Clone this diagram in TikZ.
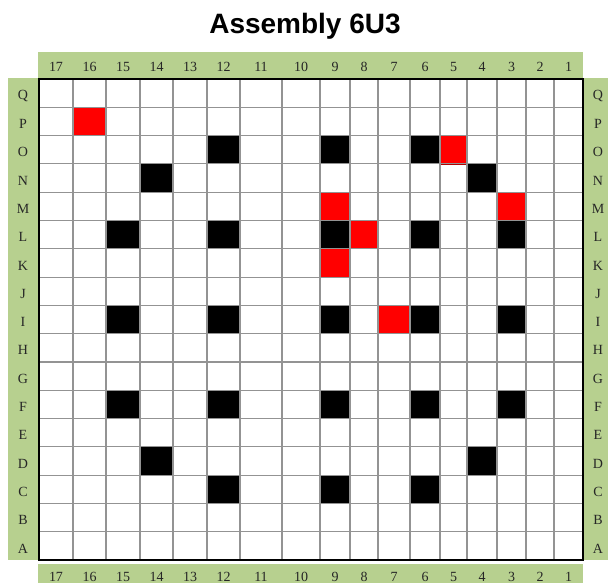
\documentclass[tikz,border=0pt]{standalone}
\usepackage{fontspec}
\setmainfont{Liberation Serif}
\newfontfamily\titlefont{Liberation Sans}
\definecolor{bandgreen}{RGB}{183,208,143}

\begin{document}
\begin{tikzpicture}[x=0.75pt,y=-0.75pt]
\tikzset{
  band/.style={fill=bandgreen},
  lbl/.style={font=\fontsize{10.5}{12}\selectfont,inner sep=0pt,text=black!85},
  gridline/.style={line width=0.8pt,draw=gray!85},
  rodcell/.style={fill=black},
  hotcell/.style={fill=red,draw=red!70!black,line width=0.5pt}
}
\useasboundingbox (0,0) rectangle (608,583);
% ---------- title ----------
\node[font=\titlefont\bfseries\fontsize{21}{25}\selectfont] (title) at (305,26) {Assembly 6U3};
% ---------- green label bands ----------
\fill[band] (38,52) rectangle (583,79);
\fill[band] (8,78) rectangle (39,560);
\fill[band] (583,78) rectangle (608,560);
\fill[band] (38,564) rectangle (583,583);
\fill[white] (39,79) rectangle (583,560);
% ---------- columns and rows ----------
\foreach \c/\xl/\xr in {17/39/73,16/73/106,15/106/140,14/140/173,13/173/207,12/207/240,11/240/282,10/282/320,9/320/350,8/350/378,7/378/410,6/410/440,5/440/467,4/467/497,3/497/526,2/526/554,1/554/583}{
  \coordinate (L\c) at (\xl,0);
  \coordinate (R\c) at (\xr,0);
  \node[lbl] (top\c) at ({(\xl+\xr)/2},67) {\c};
  \node[lbl] (bot\c) at ({(\xl+\xr)/2},577) {\c};
}
\foreach \r [count=\i from 0] in {Q,P,O,N,M,L,K,J,I,H,G,F,E,D,C,B,A}{
  \coordinate (T\r) at (0,{79+28.3*\i});
  \coordinate (B\r) at (0,{79+28.3*(\i+1)});
  \node[lbl] (left\r) at (23,{81.5+28.3*(\i+0.5)}) {\r};
  \node[lbl] (right\r) at (598,{81.5+28.3*(\i+0.5)}) {\r};
}
% ---------- filled cells ----------
\foreach \c/\r in {12/O,9/O,6/O,14/N,4/N,15/L,12/L,9/L,6/L,3/L,15/I,12/I,9/I,6/I,3/I,15/F,12/F,9/F,6/F,3/F,14/D,4/D,12/C,9/C,6/C}{
  \fill[rodcell] (L\c |- T\r) rectangle (R\c |- B\r);
}
\foreach \c/\r in {16/P,5/O,9/M,3/M,8/L,9/K,7/I}{
  \filldraw[hotcell] (L\c |- T\r) rectangle (R\c |- B\r);
}
% ---------- grid ----------
\foreach \c in {16,...,1}{ \draw[gridline] (L\c |- TQ) -- (L\c |- BA); }
\foreach \r in {P,O,N,M,L,K,J,I,H,G,F,E,D,C,B,A}{ \draw[gridline] (L17 |- T\r) -- (R1 |- T\r); }
\draw[line width=1.9pt] (L17 |- TQ) rectangle (R1 |- BA);
\end{tikzpicture}
\end{document}
